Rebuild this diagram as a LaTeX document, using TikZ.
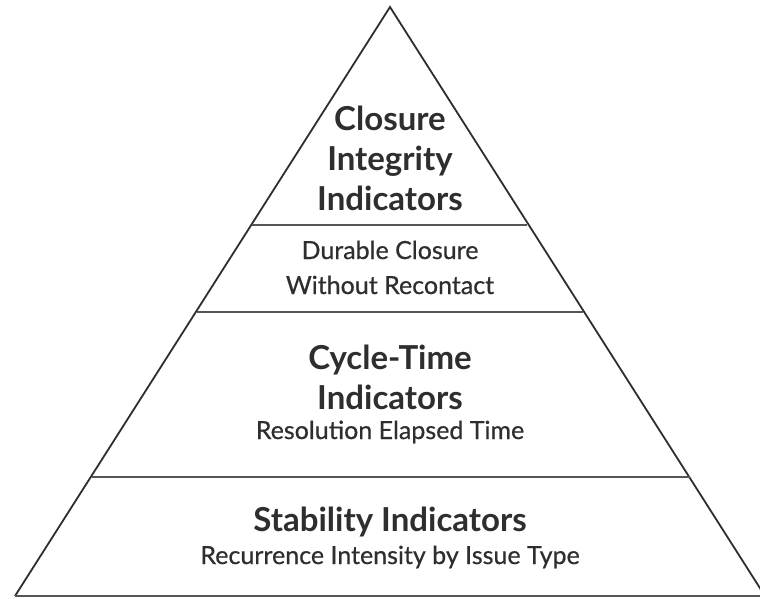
\documentclass[tikz,border=0pt]{standalone}
\usepackage{fontspec}
\setmainfont{Lato}
\newfontfamily\subfont[FakeBold=0.6]{Lato}
\definecolor{ink}{HTML}{2E2E2E}
\definecolor{rule}{HTML}{555555}
\begin{document}
\begin{tikzpicture}[x=1pt,y=-1pt,
  edge/.style={draw=ink,line width=1.8pt,line join=miter},
  divider/.style={draw=rule,line width=1.8pt},
  title/.style={text=ink,font=\fontsize{33}{40}\selectfont\bfseries,anchor=base,inner sep=0pt},
  sub/.style={text=ink,font=\subfont\fontsize{25}{35}\selectfont,anchor=base,inner sep=0pt}]
\useasboundingbox (0,0) rectangle (760,598);
\coordinate (apex) at (390,7);
\coordinate (bl) at (15,596);
\coordinate (br) at (765,596);
\coordinate (d1l) at (252,225); \coordinate (d1r) at (527,225);
\coordinate (d2l) at (197,312); \coordinate (d2r) at (583,312);
\coordinate (d3l) at (92,477); \coordinate (d3r) at (690,477);
\draw[edge] (bl) -- (apex) -- (br);
\draw[divider] (bl) -- (br);
\draw[divider] (d1l) -- (d1r);
\draw[divider] (d2l) -- (d2r);
\draw[divider] (d3l) -- (d3r);
\node[title] (t1a) at (390,130) {Closure};
\node[title] (t1b) at (390,170) {Integrity};
\node[title] (t1c) at (390,210) {Indicators};
\node[sub] (s2a) at (390,259) {Durable Closure};
\node[sub] (s2b) at (390,294) {Without Recontact};
\node[title] (t3a) at (390,369) {Cycle-Time};
\node[title] (t3b) at (390,409) {Indicators};
\node[sub] (s3) at (390,439) {Resolution Elapsed Time};
\node[title] (t4) at (390,531) {Stability Indicators};
\node[sub] (s4) at (390,564) {Recurrence Intensity by Issue Type};
\end{tikzpicture}
\end{document}
